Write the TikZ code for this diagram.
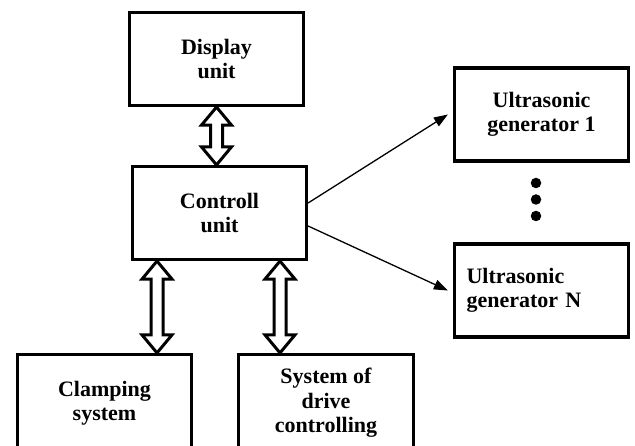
\documentclass[tikz,border=0pt]{standalone}
\usepackage{fontspec}
\setmainfont{Liberation Serif}
\usetikzlibrary{arrows.meta,calc}

\tikzset{
  box/.style={draw, line width=3.2pt, minimum width=174pt, minimum height=93pt,
    align=center, inner sep=4pt, font=\fontsize{22}{24.5}\selectfont\bfseries},
  thinarrow/.style={line width=1.3pt, -{Triangle[length=14pt,width=10pt]}},
  dblarrow/.style={draw, line width=3pt, line join=miter, fill=white},
  dot/.style={circle, fill=black, inner sep=0pt, minimum size=10.5pt}
}

% hollow two-headed arrow between two points on the same vertical
\newcommand\hollowarrow[2]{%
  \path[dblarrow] let \p1=(#1), \p2=(#2) in
    (\x1,\y1) -- (\x1+15pt,\y1-18pt) -- (\x1+6pt,\y1-18pt)
    -- (\x1+6pt,\y2+18pt) -- (\x1+15pt,\y2+18pt) -- (\x1,\y2)
    -- (\x1-15pt,\y2+18pt) -- (\x1-6pt,\y2+18pt)
    -- (\x1-6pt,\y1-18pt) -- (\x1-15pt,\y1-18pt) -- cycle;}

\begin{document}
\begin{tikzpicture}[x=1pt, y=-1pt]
  \useasboundingbox (0,0) rectangle (635,446);
  \clip (0,0) rectangle (635,446);

  % blocks
  \node[box] (disp) at (216.5,59) {Display\\unit};
  \node[box] (ctrl) at (219.5,213) {Controll\\unit};
  \node[box] (gen1) at (541.5,114.5) {Ultrasonic\\generator 1};
  \node[box, text width=150pt, align=left, inner xsep=12pt] (genN) at (541.5,290.5)
    {Ultrasonic\\generator N};
  \node[box, minimum height=97pt] (clamp) at (104.5,403) {Clamping\\system};
  \node[box, minimum height=97pt, minimum width=175pt] (drive) at (326,403)
    {System of\\drive\\controlling};

  % column positions of the lower links
  \coordinate (cx) at (157,0);
  \coordinate (dx) at (280,0);

  % hollow links
  \hollowarrow{disp.south}{ctrl.north}
  \hollowarrow{ctrl.south -| cx}{clamp.north -| cx}
  \hollowarrow{ctrl.south -| dx}{drive.north -| dx}

  % links to the generators
  \draw[thinarrow] ([yshift=10pt]ctrl.east) -- ([xshift=-5pt,yshift=0pt]gen1.west);
  \draw[thinarrow] ([yshift=-13pt]ctrl.east) -- ([xshift=-5pt]genN.west);

  % ellipsis between the generators
  \node[dot] (d1) at (536,183) {};
  \node[dot] (d2) at (536,199.5) {};
  \node[dot] (d3) at (536,216) {};
\end{tikzpicture}
\end{document}
